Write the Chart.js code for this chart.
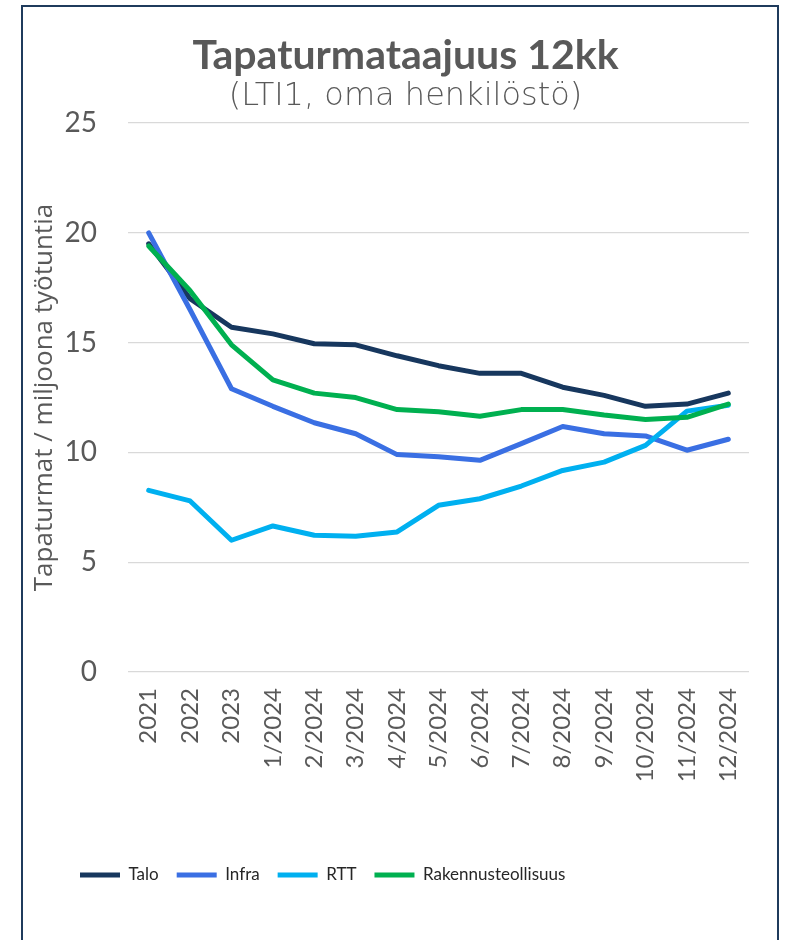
<!DOCTYPE html>
<html>
<head>
<meta charset="utf-8">
<script src="https://cdn.jsdelivr.net/npm/chart.js@4/dist/chart.umd.min.js"></script>
<style>
  html, body { margin: 0; padding: 0; background: #ffffff; }
  body { width: 787px; height: 940px; position: relative; overflow: hidden; }
  #frame { position: absolute; left: 21px; top: 5px; width: 754px; height: 1000px;
           border: 2px solid #1f3b5c; background: #ffffff; }
  #c { position: absolute; left: 0; top: 0; }
</style>
</head>
<body>
<div id="frame"></div>
<canvas id="c" width="787" height="940"></canvas>
<script>
const categories = ["2021","2022","2023","1/2024","2/2024","3/2024","4/2024","5/2024","6/2024","7/2024","8/2024","9/2024","10/2024","11/2024","12/2024"];
const talo   = [19.5, 17.0, 15.7, 15.4, 14.95, 14.9, 14.4, 13.95, 13.6, 13.6, 12.97, 12.6, 12.1, 12.2, 12.7];
const infra  = [20.0, 16.5, 12.9, 12.1, 11.35, 10.85, 9.9, 9.8, 9.64, 10.4, 11.18, 10.85, 10.75, 10.1, 10.6];
const rtt    = [8.27, 7.79, 6.0, 6.65, 6.23, 6.18, 6.38, 7.59, 7.89, 8.47, 9.18, 9.56, 10.32, 11.88, 12.15];
const rakennusteollisuus = [19.4, 17.36, 14.9, 13.3, 12.7, 12.5, 11.95, 11.85, 11.65, 11.95, 11.95, 11.7, 11.5, 11.6, 12.2];
const seriesNames = ["Talo", "Infra", "RTT", "Rakennusteollisuus"];
const yTicks = [0, 5, 10, 15, 20, 25];
const titleText = "Tapaturmataajuus 12kk";
const subtitleText = "(LTI1, oma henkilöstö)";
const yTitleText = "Tapaturmat / miljoona työtuntia";

const colors = ["#17375e", "#3a6fe3", "#00b0f0", "#00b050"];
const values = [talo, infra, rtt, rakennusteollisuus];

const LPAD = 62;
const textGray = "#595959";

new Chart(document.getElementById('c'), {
  type: 'line',
  data: {
    labels: categories,
    datasets: values.map((v, i) => ({
      label: seriesNames[i],
      data: v,
      borderColor: colors[i],
      backgroundColor: colors[i],
      borderWidth: 5,
      borderCapStyle: 'round',
      borderJoinStyle: 'round',
      pointRadius: 0,
      pointHoverRadius: 0,
      tension: 0,
      fill: false,
      order: 4 - i
    }))
  },
  options: {
    responsive: false,
    animation: false,
    devicePixelRatio: 1,
    layout: { padding: { left: LPAD, right: 38, top: 0, bottom: 46.5 } },
    plugins: {
      title: {
        display: true,
        text: titleText,
        color: textGray,
        font: { family: "Lato, 'Open Sans', sans-serif", size: 41, weight: 'bold', lineHeight: 1.05 },
        padding: { top: 34, bottom: 0 }
      },
      subtitle: {
        display: true,
        text: subtitleText,
        color: textGray,
        font: { family: "'DejaVu Sans', 'Open Sans', sans-serif", size: 32, weight: 200, lineHeight: 1.0 },
        padding: { top: 4, bottom: 10 }
      },
      legend: {
        display: true,
        position: 'bottom',
        align: 'start',
        labels: {
          usePointStyle: true,
          pointStyle: 'line',
          pointStyleWidth: 40,
          padding: 18,
          color: "#262626",
          font: { family: "Lato, sans-serif", size: 17 },
          sort: (a, b) => a.datasetIndex - b.datasetIndex
        }
      },
      tooltip: { enabled: false }
    },
    scales: {
      x: {
        offset: true,
        grid: { display: false, drawTicks: false },
        border: { display: false },
        ticks: {
          autoSkip: false,
          maxRotation: 90,
          minRotation: 90,
          padding: 16,
          color: textGray,
          font: { family: "Lato, 'Open Sans', sans-serif", size: 24 }
        },
        afterFit: (s) => { s.height = 176.5; }
      },
      y: {
        min: 0,
        max: 25,
        afterBuildTicks: (s) => { s.ticks = yTicks.map(v => ({ value: v })); },
        grid: { color: "#d9d9d9", lineWidth: 1.3, drawTicks: false },
        border: { display: false },
        ticks: {
          padding: 31,
          color: textGray,
          font: { family: "Lato, 'Open Sans', sans-serif", size: 28 }
        },
        title: {
          display: true,
          text: yTitleText,
          color: textGray,
          font: { family: "'Open Sans', Lato, sans-serif", size: 26, lineHeight: 1.2 },
          padding: { top: 45 - LPAD - 15.6, bottom: 0 }
        },
        afterFit: (s) => { s.width = 128 - LPAD; }
      }
    }
  }
});
</script>
</body>
</html>
